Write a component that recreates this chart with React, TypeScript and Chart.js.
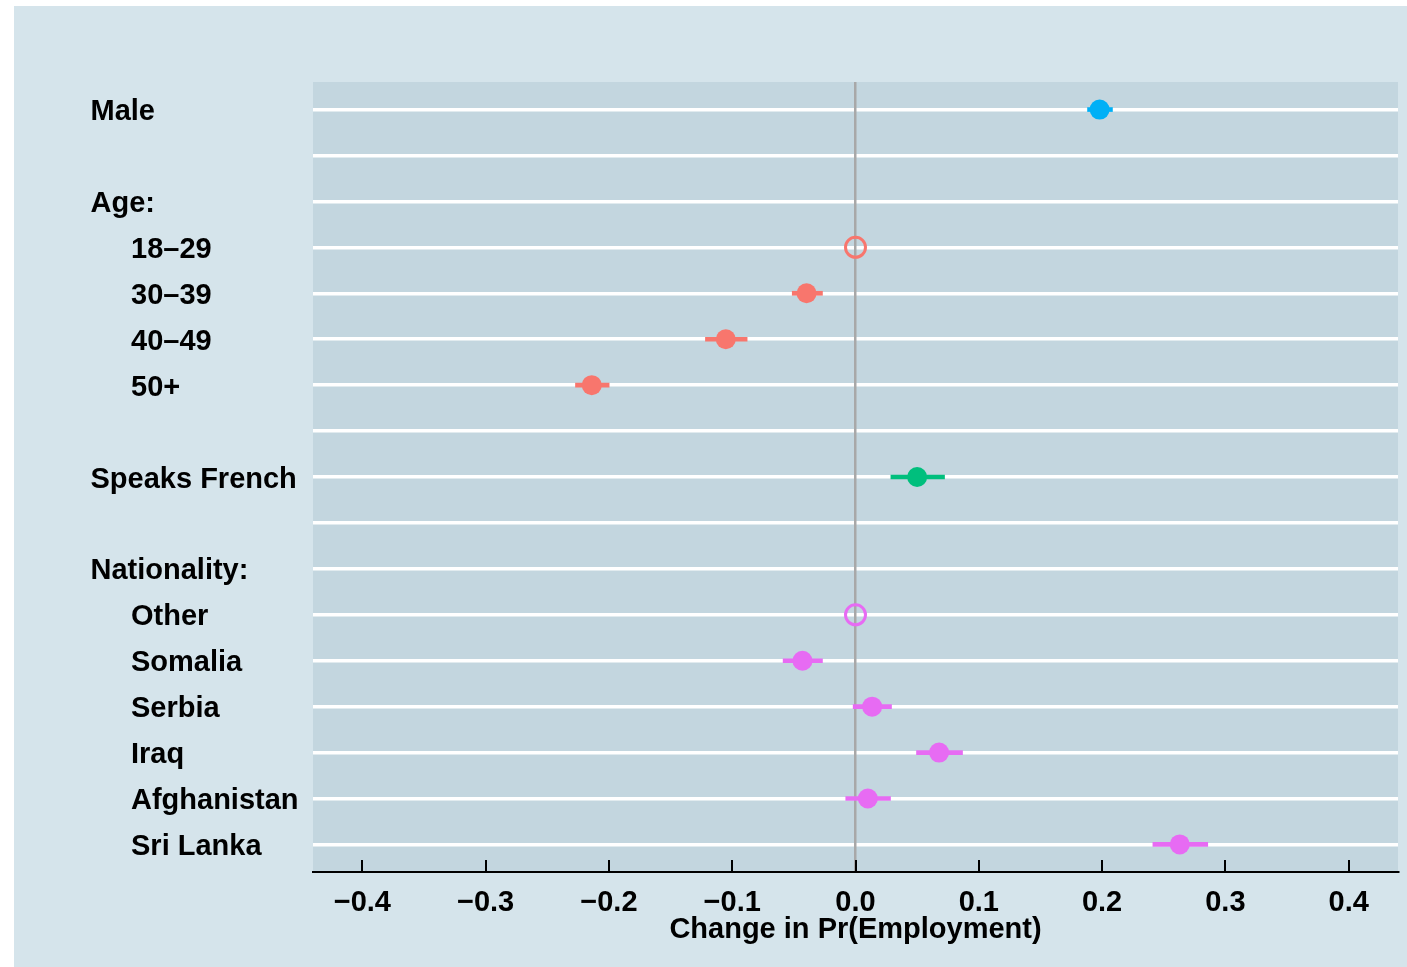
import React, { useEffect, useRef } from "react";
import { Chart, registerables } from "chart.js";

Chart.register(...registerables);

// ---------- data ----------
const rowLabels = [
  "Male", "", "Age:", "18–29", "30–39", "40–49", "50+", "",
  "Speaks French", "", "Nationality:", "Other", "Somalia", "Serbia",
  "Iraq", "Afghanistan", "Sri Lanka",
];
const rowIndent = [0, 0, 0, 1, 1, 1, 1, 0, 0, 0, 0, 1, 1, 1, 1, 1, 1];

const pointRows = [0, 3, 4, 5, 6, 8, 11, 12, 13, 14, 15, 16];
const pointEstimates = [0.198, 0, -0.0397, -0.1052, -0.2139, 0.05, 0, -0.043, 0.0135, 0.0678, 0.01, 0.263];
const pointLower = [0.1882, null, -0.0513, -0.1217, -0.2271, 0.0287, null, -0.0587, -0.0019, 0.0495, -0.0079, 0.2412];
const pointUpper = [0.2084, null, -0.0268, -0.0879, -0.1998, 0.0722, null, -0.0268, 0.0292, 0.0868, 0.0284, 0.2857];
const pointIsReference = [false, true, false, false, false, false, true, false, false, false, false, false];
const pointGroup = ["male", "age", "age", "age", "age", "french", "nat", "nat", "nat", "nat", "nat", "nat"];

const groupColors: Record<string, string> = {
  male: "#00B0F6",
  age: "#F8766D",
  french: "#00BF7D",
  nat: "#E76BF3",
};

const xTicks = [-0.4, -0.3, -0.2, -0.1, 0, 0.1, 0.2, 0.3, 0.4];
const xTickLabels = ["\u22120.4", "\u22120.3", "\u22120.2", "\u22120.1", "0.0", "0.1", "0.2", "0.3", "0.4"];
const xTitle = "Change in Pr(Employment)";

const FONT = "'Liberation Sans', Arial, Helvetica, sans-serif";
const OUTER_BG = "#d5e4eb";
const PANEL_BG = "#c3d6df";

export default function App() {
  const ref = useRef<HTMLCanvasElement | null>(null);

  useEffect(() => {
    if (!ref.current) return;

    const colors = pointGroup.map((g) => groupColors[g]);

    const ciIdx = pointRows.map((_, i) => i).filter((i) => !pointIsReference[i]);

    const panelPlugin = {
      id: "panelBg",
      beforeDraw(chart: any) {
        const { ctx, chartArea } = chart;
        ctx.save();
        ctx.fillStyle = PANEL_BG;
        ctx.fillRect(chartArea.left, chartArea.top, chartArea.right - chartArea.left, chartArea.bottom - chartArea.top);
        ctx.restore();
      },
    };

    const decorPlugin = {
      id: "decor",
      afterDraw(chart: any) {
        const { ctx, chartArea } = chart;
        const xs = chart.scales.x;
        const ys = chart.scales.y;
        ctx.save();
        // inward tick marks
        ctx.strokeStyle = "#000";
        ctx.lineWidth = 2;
        xs.ticks.forEach((t: any) => {
          const px = Math.round(xs.getPixelForValue(t.value));
          ctx.beginPath();
          ctx.moveTo(px, chartArea.bottom - 12);
          ctx.lineTo(px, chartArea.bottom);
          ctx.stroke();
        });
        // row labels
        ctx.fillStyle = "#000";
        ctx.font = `bold 29px ${FONT}`;
        ctx.textAlign = "left";
        ctx.textBaseline = "alphabetic";
        rowLabels.forEach((lab, i) => {
          if (!lab) return;
          const py = ys.getPixelForValue(i);
          const x0 = rowIndent[i] ? 117 : 76.5;
          ctx.fillText(lab, x0, py + 10.5);
        });
        ctx.restore();
      },
    };

    const chart = new Chart(ref.current, {
      type: "scatter",
      data: {
        datasets: [
          {
            type: "scatter",
            order: 0,
            data: pointRows.map((r, i) => ({ x: pointEstimates[i], y: r })),
            pointRadius: 10,
            pointHoverRadius: 10,
            pointBackgroundColor: pointRows.map((_, i) => (pointIsReference[i] ? "rgba(0,0,0,0)" : colors[i])),
            pointBorderColor: colors,
            pointBorderWidth: pointRows.map((_, i) => (pointIsReference[i] ? 3 : 0)),
          } as any,
          {
            type: "bar",
            order: 1,
            indexAxis: "y",
            data: ciIdx.map((i) => ({ y: pointRows[i], x: [pointLower[i], pointUpper[i]] })),
            backgroundColor: ciIdx.map((i) => colors[i]),
            borderWidth: 0,
            borderSkipped: false,
            barThickness: 4,
            grouped: false,
          } as any,
        ],
      },
      options: {
        responsive: false,
        animation: false,
        events: [],
        layout: { autoPadding: false, padding: { left: 299, top: 76, right: 9, bottom: 0 } },
        plugins: {
          legend: { display: false },
          tooltip: { enabled: false },
        },
        scales: {
          x: {
            type: "linear",
            position: "bottom",
            min: -0.44,
            max: 0.44,
            offset: false,
            afterBuildTicks: (scale: any) => {
              scale.ticks = xTicks.map((v) => ({ value: v }));
            },
            afterFit: (scale: any) => {
              scale.height = 95;
              scale.paddingLeft = 0;
              scale.paddingRight = 0;
            },
            ticks: {
              callback: (_v: any, i: number) => xTickLabels[i],
              color: "#000",
              font: { family: FONT, size: 29, weight: "bold", lineHeight: 1.2 },
              padding: 14,
              maxRotation: 0,
              autoSkip: false,
            },
            grid: {
              z: -1,
              offset: false,
              drawTicks: false,
              color: (c: any) => (c.tick && Math.abs(c.tick.value) < 1e-9 ? "#a8a8a8" : "rgba(0,0,0,0)"),
              lineWidth: 2.5,
            },
            border: { display: true, color: "#000", width: 2, z: 1 },
            title: {
              display: true,
              text: xTitle,
              color: "#000",
              font: { family: FONT, size: 29, weight: "bold", lineHeight: 1.2 },
              padding: { top: 0, bottom: 20 },
            },
          },
          y: {
            type: "linear",
            reverse: true,
            min: -0.6,
            max: 16.6,
            offset: false,
            afterBuildTicks: (scale: any) => {
              scale.ticks = rowLabels.map((_, i) => ({ value: i }));
            },
            afterFit: (scale: any) => {
              scale.width = 0;
              scale.paddingTop = 0;
              scale.paddingBottom = 0;
            },
            ticks: { display: false },
            grid: { z: -2, offset: false, drawTicks: false, color: "#ffffff", lineWidth: 3.5 },
            border: { display: false },
          },
        },
      } as any,
      plugins: [panelPlugin, decorPlugin],
    });

    return () => chart.destroy();
  }, []);

  return (
    <div
      style={{
        position: "absolute",
        left: 14,
        top: 6,
        width: 1393,
        height: 961,
        background: OUTER_BG,
      }}
    >
      <canvas ref={ref} width={1393} height={961} style={{ display: "block" }} />
    </div>
  );
}
